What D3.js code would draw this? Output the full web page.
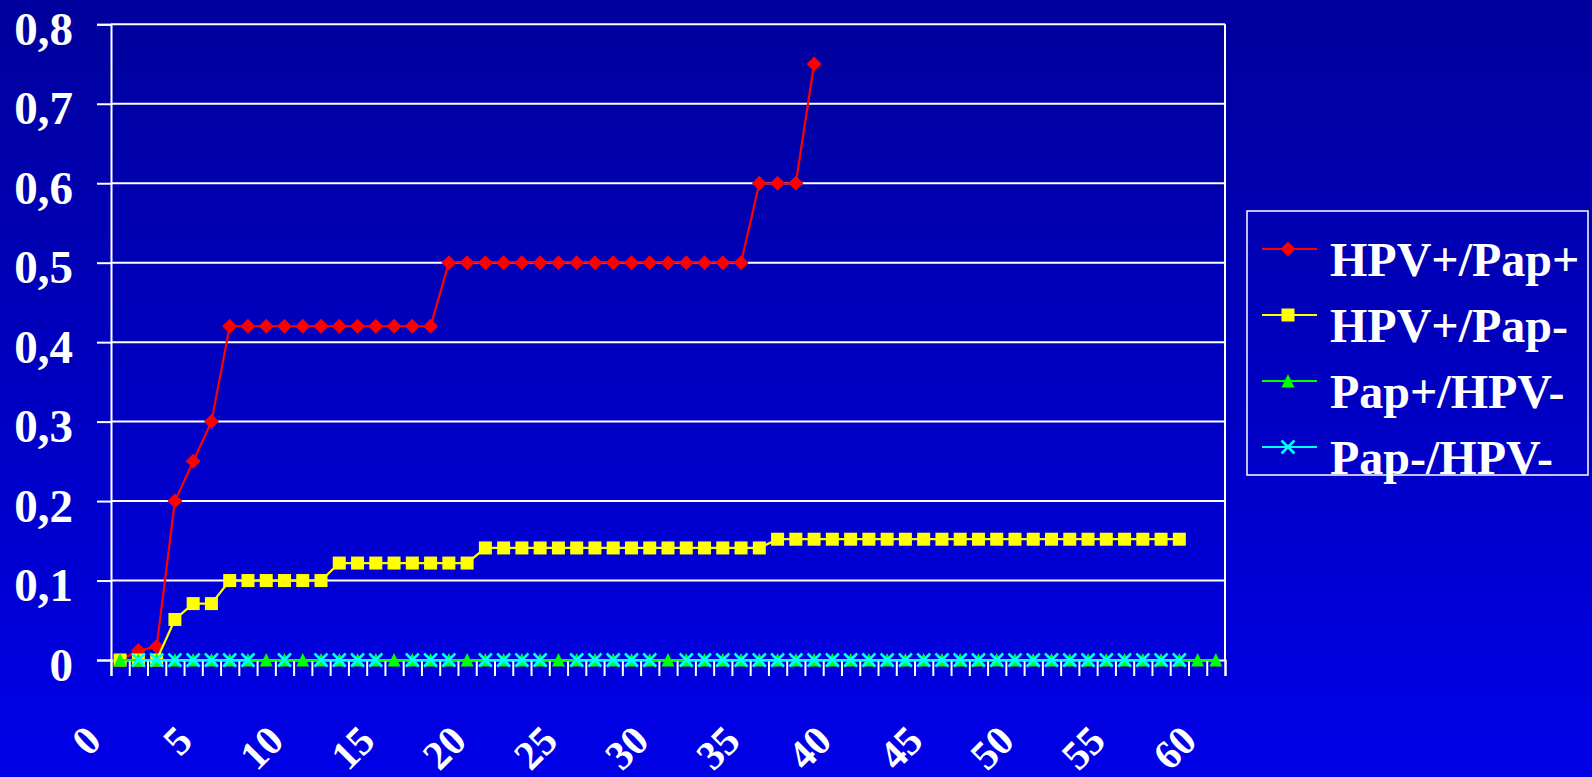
<!DOCTYPE html>
<html>
<head>
<meta charset="utf-8">
<script src="https://cdn.jsdelivr.net/npm/d3@7"></script>
<style>
  html, body { margin: 0; padding: 0; overflow: hidden; }
  svg { display: block; }
  text { font-family: "Liberation Serif", "Times New Roman", serif; font-weight: bold; fill: white; }
</style>
</head>
<body>
<div id="chart"></div>
<script>
// categories on the x axis (0..60) and the labels shown under it
const categories = [0,1,2,3,4,5,6,7,8,9,10,11,12,13,14,15,16,17,18,19,20,
  21,22,23,24,25,26,27,28,29,30,31,32,33,34,35,36,37,38,39,40,
  41,42,43,44,45,46,47,48,49,50,51,52,53,54,55,56,57,58,59,60]
const xLabels = [0,5,10,15,20,25,30,35,40,45,50,55,60]
const yTicks = [0,0.1,0.2,0.3,0.4,0.5,0.6,0.7,0.8]

const seriesNames = ['HPV+/Pap+', 'HPV+/Pap-', 'Pap+/HPV-', 'Pap-/HPV-']

// values per category, missing ones are null
const hpvPapPos = [0, 0.012, 0.017, 0.2, 0.25, 0.3,
  0.42, 0.42, 0.42, 0.42, 0.42, 0.42, 0.42, 0.42, 0.42, 0.42, 0.42, 0.42,
  0.5, 0.5, 0.5, 0.5, 0.5, 0.5, 0.5, 0.5, 0.5, 0.5, 0.5, 0.5, 0.5, 0.5, 0.5, 0.5, 0.5,
  0.6, 0.6, 0.6, 0.75]
const hpvPosPapNeg = [0, 0, 0, 0.051, 0.071, 0.071,
  0.1, 0.1, 0.1, 0.1, 0.1, 0.1,
  0.122, 0.122, 0.122, 0.122, 0.122, 0.122, 0.122, 0.122,
  0.141, 0.141, 0.141, 0.141, 0.141, 0.141, 0.141, 0.141,
  0.141, 0.141, 0.141, 0.141, 0.141, 0.141, 0.141, 0.141,
  0.152, 0.152, 0.152, 0.152, 0.152, 0.152, 0.152, 0.152, 0.152, 0.152, 0.152, 0.152,
  0.152, 0.152, 0.152, 0.152, 0.152, 0.152, 0.152, 0.152, 0.152, 0.152, 0.152]
const papPosHpvNeg = [0,0,0,0,0,0,0,0,0,0,0,0,0,0,0,0,0,0,0,0,0,
  0,0,0,0,0,0,0,0,0,0,0,0,0,0,0,0,0,0,0,0,
  0,0,0,0,0,0,0,0,0,0,0,0,0,0,0,0,0,0,0,0]
const papNegHpvNeg = [null,0,0,0,0,0,0,0,null,0,null,0,0,0,0,null,0,0,0,null,
  0,0,0,0,null,0,0,0,0,0,null,0,0,0,0,0,0,0,0,0,
  0,0,0,0,0,0,0,0,0,0,0,0,0,0,0,0,0,0,0]

const W = 1592, H = 777
const plot = { left: 111, right: 1225, top: 24.3, bottom: 660 }

const svg = d3.select('#chart').append('svg')
  .attr('width', W)
  .attr('height', H)

const grad = svg.append('defs').append('linearGradient')
  .attr('id', 'bg')
  .attr('x1', 0).attr('y1', 0).attr('x2', 0).attr('y2', 1)
grad.append('stop').attr('offset', '0%').attr('stop-color', '#00009c')
grad.append('stop').attr('offset', '100%').attr('stop-color', '#0000e8')

svg.append('rect')
  .attr('width', W)
  .attr('height', H)
  .attr('fill', 'url(#bg)')

const x = d3.scaleLinear().domain([-0.5, 60.5]).range([plot.left, plot.right])
const y = d3.scaleLinear().domain([0, 0.8]).range([plot.bottom, plot.top])

// horizontal grid lines
svg.append('g')
  .selectAll('line')
  .data(yTicks.filter(d => d > 0))
  .enter()
  .append('line')
  .attr('x1', plot.left)
  .attr('x2', plot.right)
  .attr('y1', d => y(d))
  .attr('y2', d => y(d))
  .attr('stroke', 'white')
  .attr('stroke-width', 2)

// right border of the plot area
svg.append('line')
  .attr('x1', plot.right).attr('x2', plot.right)
  .attr('y1', plot.top).attr('y2', plot.bottom)
  .attr('stroke', 'white')
  .attr('stroke-width', 2)

// y axis
const yAxis = svg.append('g')
  .attr('transform', 'translate(' + plot.left + ',0)')
  .call(d3.axisLeft(y)
    .tickValues(yTicks)
    .tickSize(14)
    .tickFormat(d => d === 0 ? '0' : d3.format('.1f')(d).replace('.', ',')))
yAxis.select('.domain').attr('stroke', 'white').attr('stroke-width', 2)
yAxis.selectAll('.tick line').attr('stroke', 'white').attr('stroke-width', 2)
yAxis.selectAll('.tick text')
  .attr('x', -38)
  .attr('dy', null)
  .attr('y', 20)
  .attr('fill', 'white')
  .style('font-size', '47px')
  .style('font-family', '"Liberation Serif", serif')
  .style('font-weight', 'bold')

// x axis: tick marks between categories
const boundaries = categories.map(c => c - 0.5).concat([60.5])
const xAxis = svg.append('g')
  .attr('transform', 'translate(0,' + plot.bottom + ')')
  .call(d3.axisBottom(x).tickValues(boundaries).tickSize(16).tickFormat(''))
xAxis.select('.domain').attr('stroke', 'white').attr('stroke-width', 2)
xAxis.selectAll('.tick line').attr('stroke', 'white').attr('stroke-width', 2)

// rotated category labels
svg.append('g')
  .selectAll('text')
  .data(xLabels)
  .enter()
  .append('text')
  .attr('transform', d => 'translate(' + (x(d) - 17) + ',743) rotate(-45)')
  .attr('text-anchor', 'end')
  .style('font-size', '41px')
  .text(d => d)

// series
const series = [
  { name: seriesNames[0], values: hpvPapPos, color: '#ff0000', marker: 'diamond' },
  { name: seriesNames[1], values: hpvPosPapNeg, color: '#ffff00', marker: 'square' },
  { name: seriesNames[2], values: papPosHpvNeg, color: '#00ff00', marker: 'triangle' },
  { name: seriesNames[3], values: papNegHpvNeg, color: '#00ffff', marker: 'cross' }
]

function drawMarker(g, type, color) {
  if (type === 'diamond') {
    g.append('path').attr('d', 'M0,-7.5L7.5,0L0,7.5L-7.5,0Z').attr('fill', color)
  } else if (type === 'square') {
    g.append('rect').attr('x', -6.5).attr('y', -6.5).attr('width', 13).attr('height', 13).attr('fill', color)
  } else if (type === 'triangle') {
    g.append('path').attr('d', 'M0,-7L6.5,6.5L-6.5,6.5Z').attr('fill', color)
  } else {
    g.append('path').attr('d', 'M-6.5,-6.5L6.5,6.5M-6.5,6.5L6.5,-6.5')
      .attr('stroke', color).attr('stroke-width', 2.5).attr('fill', 'none')
  }
}

const line = d3.line()
  .defined(d => d.v !== null && d.v !== undefined)
  .x(d => x(d.c))
  .y(d => y(d.v))

series.forEach(s => {
  const pts = s.values.map((v, i) => ({ c: categories[i], v: v }))
  const g = svg.append('g')
  g.append('path')
    .datum(pts)
    .attr('d', line)
    .attr('fill', 'none')
    .attr('stroke', s.color)
    .attr('stroke-width', 2.2)
  g.selectAll('.pt')
    .data(pts.filter(p => p.v !== null))
    .enter()
    .append('g')
    .attr('class', 'pt')
    .attr('transform', p => 'translate(' + x(p.c) + ',' + y(p.v) + ')')
    .each(function () { drawMarker(d3.select(this), s.marker, s.color) })
})

// legend
const legend = svg.append('g').attr('id', 'legend')
legend.append('rect')
  .attr('x', 1247)
  .attr('y', 211)
  .attr('width', 341)
  .attr('height', 264)
  .attr('fill', 'none')
  .attr('stroke', 'white')
  .attr('stroke-width', 1.5)

series.forEach((s, i) => {
  const ly = 249 + i * 66
  legend.append('line')
    .attr('x1', 1262).attr('x2', 1317)
    .attr('y1', ly).attr('y2', ly)
    .attr('stroke', s.color)
    .attr('stroke-width', 2.2)
  const m = legend.append('g').attr('transform', 'translate(1288,' + ly + ')')
  drawMarker(m, s.marker, s.color)
  legend.append('text')
    .attr('x', 1330)
    .attr('y', ly + 27)
    .style('font-size', '48px')
    .text(s.name)
})
</script>
</body>
</html>
